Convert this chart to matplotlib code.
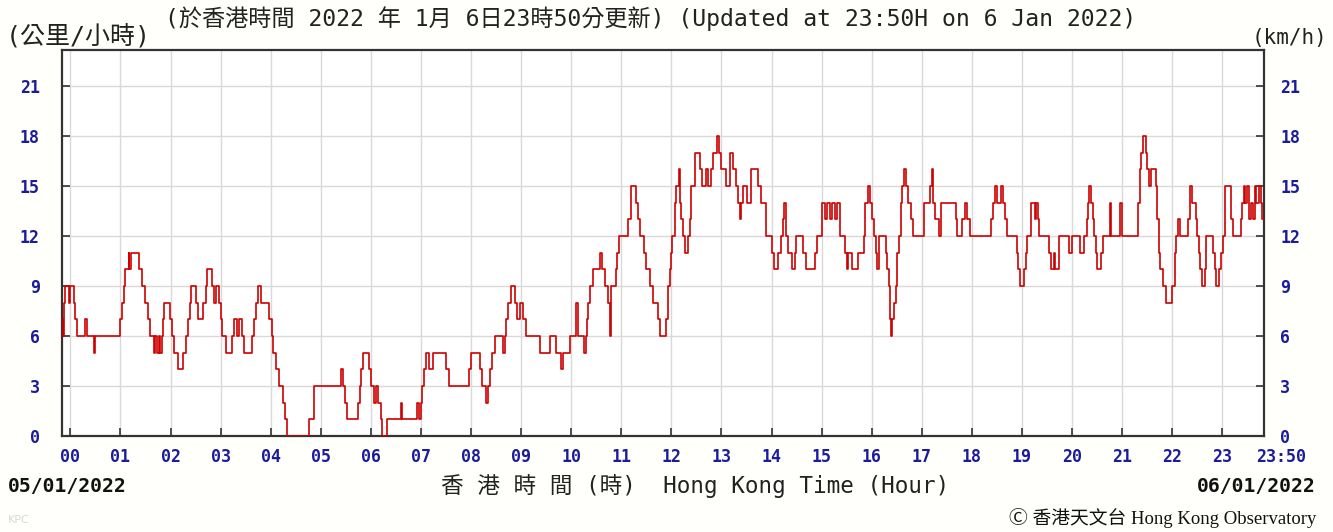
import matplotlib
matplotlib.use("Agg")
import matplotlib.pyplot as plt
from matplotlib.transforms import ScaledTranslation

# 10-minute-window wind speed record, change points (hour of day, km/h)
hours = [
    -0.167, -0.15, -0.13, -0.11, -0.03, 0.0, 0.07, 0.1, 0.13, 0.29, 0.33, 0.47, 0.49,
    1.0, 1.03, 1.07, 1.1, 1.17, 1.18, 1.21, 1.37, 1.43, 1.5, 1.55, 1.6, 1.67, 1.7,
    1.73, 1.77, 1.8, 1.83, 1.85, 1.87, 1.99, 2.02, 2.07, 2.15, 2.25, 2.3, 2.35, 2.38,
    2.41, 2.5, 2.55, 2.65, 2.7, 2.73, 2.83, 2.87, 2.9, 2.97, 3.0, 3.03, 3.1, 3.23,
    3.27, 3.33, 3.37, 3.43, 3.47, 3.63, 3.67, 3.7, 3.75, 3.8, 3.97, 4.02, 4.05, 4.1,
    4.17, 4.25, 4.28, 4.33, 4.77, 4.87, 5.4, 5.44, 5.48, 5.53, 5.75, 5.78, 5.8, 5.85,
    5.97, 6.0, 6.07, 6.1, 6.14, 6.2, 6.23, 6.33, 6.6, 6.63, 6.93, 6.97, 7.0, 7.03,
    7.07, 7.1, 7.17, 7.25, 7.5, 7.57, 7.95, 8.0, 8.17, 8.22, 8.29, 8.33, 8.38, 8.42,
    8.47, 8.63, 8.67, 8.7, 8.73, 8.8, 8.87, 8.91, 8.97, 9.03, 9.1, 9.38, 9.57, 9.7,
    9.8, 9.83, 9.97, 10.09, 10.13, 10.25, 10.29, 10.31, 10.33, 10.37, 10.43, 10.57,
    10.62, 10.67, 10.73, 10.77, 10.8, 10.89, 10.91, 10.95, 11.13, 11.2, 11.3, 11.33,
    11.37, 11.45, 11.5, 11.57, 11.63, 11.73, 11.77, 11.9, 11.93, 11.97, 12.0, 12.02,
    12.08, 12.1, 12.15, 12.18, 12.2, 12.23, 12.27, 12.33, 12.38, 12.4, 12.47, 12.57,
    12.62, 12.7, 12.73, 12.8, 12.83, 12.91, 12.95, 13.0, 13.1, 13.18, 13.23, 13.29,
    13.33, 13.37, 13.4, 13.43, 13.51, 13.6, 13.73, 13.8, 13.89, 14.0, 14.05, 14.13,
    14.18, 14.22, 14.25, 14.28, 14.33, 14.4, 14.47, 14.49, 14.62, 14.68, 14.87, 14.9,
    15.0, 15.07, 15.1, 15.17, 15.2, 15.27, 15.3, 15.37, 15.47, 15.5, 15.53, 15.6,
    15.73, 15.85, 15.87, 15.93, 15.96, 16.01, 16.05, 16.08, 16.11, 16.15, 16.28,
    16.31, 16.35, 16.37, 16.38, 16.41, 16.45, 16.48, 16.51, 16.55, 16.58, 16.61,
    16.65, 16.69, 16.73, 16.78, 16.83, 17.05, 17.16, 17.2, 17.23, 17.27, 17.35,
    17.38, 17.68, 17.71, 17.81, 17.87, 17.91, 17.96, 18.38, 18.43, 18.47, 18.51,
    18.58, 18.63, 18.67, 18.71, 18.91, 18.93, 18.96, 19.05, 19.08, 19.11, 19.18,
    19.27, 19.29, 19.33, 19.35, 19.55, 19.58, 19.65, 19.67, 19.75, 19.93, 19.99,
    20.15, 20.23, 20.29, 20.31, 20.33, 20.38, 20.41, 20.43, 20.47, 20.49, 20.57,
    20.61, 20.75, 20.77, 20.96, 21.0, 21.31, 21.35, 21.38, 21.41, 21.47, 21.49,
    21.53, 21.58, 21.67, 21.69, 21.73, 21.76, 21.81, 21.87, 22.0, 22.05, 22.08,
    22.12, 22.15, 22.31, 22.36, 22.4, 22.48, 22.5, 22.53, 22.56, 22.6, 22.65, 22.68,
    22.81, 22.85, 22.88, 22.93, 22.98, 23.01, 23.05, 23.18, 23.21, 23.37, 23.4,
    23.43, 23.45, 23.49, 23.53, 23.58, 23.61, 23.65, 23.68, 23.73, 23.77, 23.8,
]
speed = [
    7, 6, 8, 9, 8, 9, 8, 7, 6, 7, 6, 5, 6,
    7, 8, 9, 10, 11, 10, 11, 10, 9, 8, 7, 6, 5, 6,
    5, 6, 5, 6, 7, 8, 7, 6, 5, 4, 5, 6, 7, 8,
    9, 8, 7, 8, 9, 10, 9, 8, 9, 8, 7, 6, 5, 6,
    7, 6, 7, 6, 5, 6, 7, 8, 9, 8, 7, 6, 5, 4,
    3, 2, 1, 0, 1, 3, 4, 3, 2, 1, 2, 3, 4, 5,
    4, 3, 2, 3, 2, 1, 0, 1, 2, 1, 2, 1, 2, 3,
    4, 5, 4, 5, 4, 3, 4, 5, 4, 3, 2, 3, 4, 5,
    6, 5, 6, 7, 8, 9, 8, 7, 8, 7, 6, 5, 6, 5,
    4, 5, 6, 8, 6, 5, 6, 7, 8, 9, 10, 11,
    10, 9, 8, 6, 9, 10, 11, 12, 13, 15, 14, 13,
    12, 11, 10, 9, 8, 7, 6, 7, 9, 10, 11, 12,
    14, 15, 16, 14, 13, 12, 11, 12, 13, 15, 17, 16,
    15, 16, 15, 16, 17, 18, 17, 16, 15, 17, 16, 15,
    14, 13, 14, 15, 14, 16, 15, 14, 12, 11, 10, 11,
    12, 13, 14, 12, 11, 10, 11, 12, 11, 10, 11, 12,
    14, 13, 14, 13, 14, 13, 14, 12, 11, 10, 11, 10,
    11, 12, 14, 15, 14, 13, 12, 11, 10, 12, 11,
    10, 9, 7, 6, 7, 8, 9, 11, 12, 14, 15,
    16, 15, 14, 13, 12, 14, 15, 16, 14, 13, 12,
    14, 13, 12, 13, 14, 13, 12, 13, 14, 15, 14,
    15, 14, 13, 12, 11, 10, 9, 10, 11, 12, 14,
    13, 14, 13, 12, 11, 10, 11, 10, 12, 11, 12,
    11, 12, 13, 14, 15, 14, 13, 12, 11, 10, 11,
    12, 14, 12, 14, 12, 14, 16, 17, 18, 17, 16,
    15, 16, 15, 13, 11, 10, 9, 8, 9, 11, 12,
    13, 12, 13, 15, 14, 13, 12, 11, 10, 9, 10, 12,
    11, 10, 9, 10, 11, 12, 15, 13, 12, 13, 14,
    15, 14, 15, 13, 14, 13, 15, 14, 15, 14, 13,
]
t_start, t_end = -1 / 6, 23 + 5 / 6

hour_ticks = list(range(24))
hour_labels = ["%02d" % h for h in hour_ticks]
speed_ticks = [0, 3, 6, 9, 12, 15, 18, 21]

W, H = 1333, 532
fig = plt.figure(figsize=(W / 100, H / 100), dpi=100)
fig.patch.set_facecolor("#fffffb")

ax = fig.add_axes([62 / W, 1 - 436 / H, (1264 - 62) / W, (436 - 50) / H])
ax.set_facecolor("white")

ax.step(hours + [t_end], speed + [speed[-1]], where="post",
        color="#cc0000", lw=1.2, zorder=3)

ax.set_xlim(t_start, t_end)
ax.set_ylim(0, 23.15)

navy = "#1c1c9a"
mono = ["DejaVu Sans Mono", "Noto Sans CJK TC"]
tick_font = dict(family="DejaVu Sans Mono", fontsize=12, fontweight="bold", color=navy)

ax.set_xticks(hour_ticks + [t_end])
ax.set_xticklabels(hour_labels + ["23:50"], **tick_font)
ax.set_yticks(speed_ticks)
ax.set_yticklabels([str(v) for v in speed_ticks], **tick_font)
ax.tick_params(axis="x", direction="in", length=6, width=1.2, color="#333333", pad=9)
ax.tick_params(axis="y", direction="in", length=6, width=1.2, color="#333333",
               pad=16, left=True, right=True, labelleft=True, labelright=True)

# shift the final "23:50" label so it sits past the right edge
last = ax.get_xticklabels()[-1]
last.set_transform(last.get_transform() + ScaledTranslation(0.17, 0, fig.dpi_scale_trans))

# right-hand labels sit closer to the frame
for t in ax.yaxis.get_major_ticks():
    t.label2.set_transform(t.label2.get_transform()
                           + ScaledTranslation(-0.06, 0, fig.dpi_scale_trans))
    t.label2.set_fontfamily("DejaVu Sans Mono")
    t.label2.set_fontweight("bold")
    t.label2.set_fontsize(12)
    t.label2.set_color(navy)

ax.grid(True, color="#d9d9d9", lw=1.0, zorder=0)
ax.set_axisbelow(True)
for s in ax.spines.values():
    s.set_color("#333333")
    s.set_linewidth(1.6)


def ftext(px, py, s, **kw):
    fig.text(px / W, 1 - py / H, s, **kw)


ftext(6, 36, "(公里/小時)", family=mono, fontsize=18, va="center", ha="left",
      color="#222222")
ftext(165, 19, "(於香港時間 2022 年 1月 6日23時50分更新) (Updated at 23:50H on 6 Jan 2022)",
      family=mono, fontsize=16.7, va="center", ha="left", color="#222222")
ftext(1327, 38, "(km/h)", family=mono, fontsize=15, va="center", ha="right",
      color="#222222")
ftext(8, 486, "05/01/2022", family="DejaVu Sans Mono", fontsize=14.2,
      fontweight="bold", va="center", ha="left", color="#111111")
ftext(1316, 486, "06/01/2022", family="DejaVu Sans Mono", fontsize=14.2,
      fontweight="bold", va="center", ha="right", color="#111111")
ftext(695, 486, "香 港 時 間 (時)  Hong Kong Time (Hour)", family=mono,
      fontsize=16.3, va="center", ha="center", color="#222222")
ftext(1316, 518, "\u24b8 香港天文台 Hong Kong Observatory",
      family=["Liberation Serif", "DejaVu Sans", "Noto Sans CJK TC"], fontsize=13.5,
      va="center", ha="right", color="#111111")
ftext(8, 520, "KPC", family="DejaVu Sans", fontsize=8, va="center", ha="left",
      color="#d8d8d8")

fig.savefig("out.png", dpi=100, facecolor=fig.get_facecolor())
